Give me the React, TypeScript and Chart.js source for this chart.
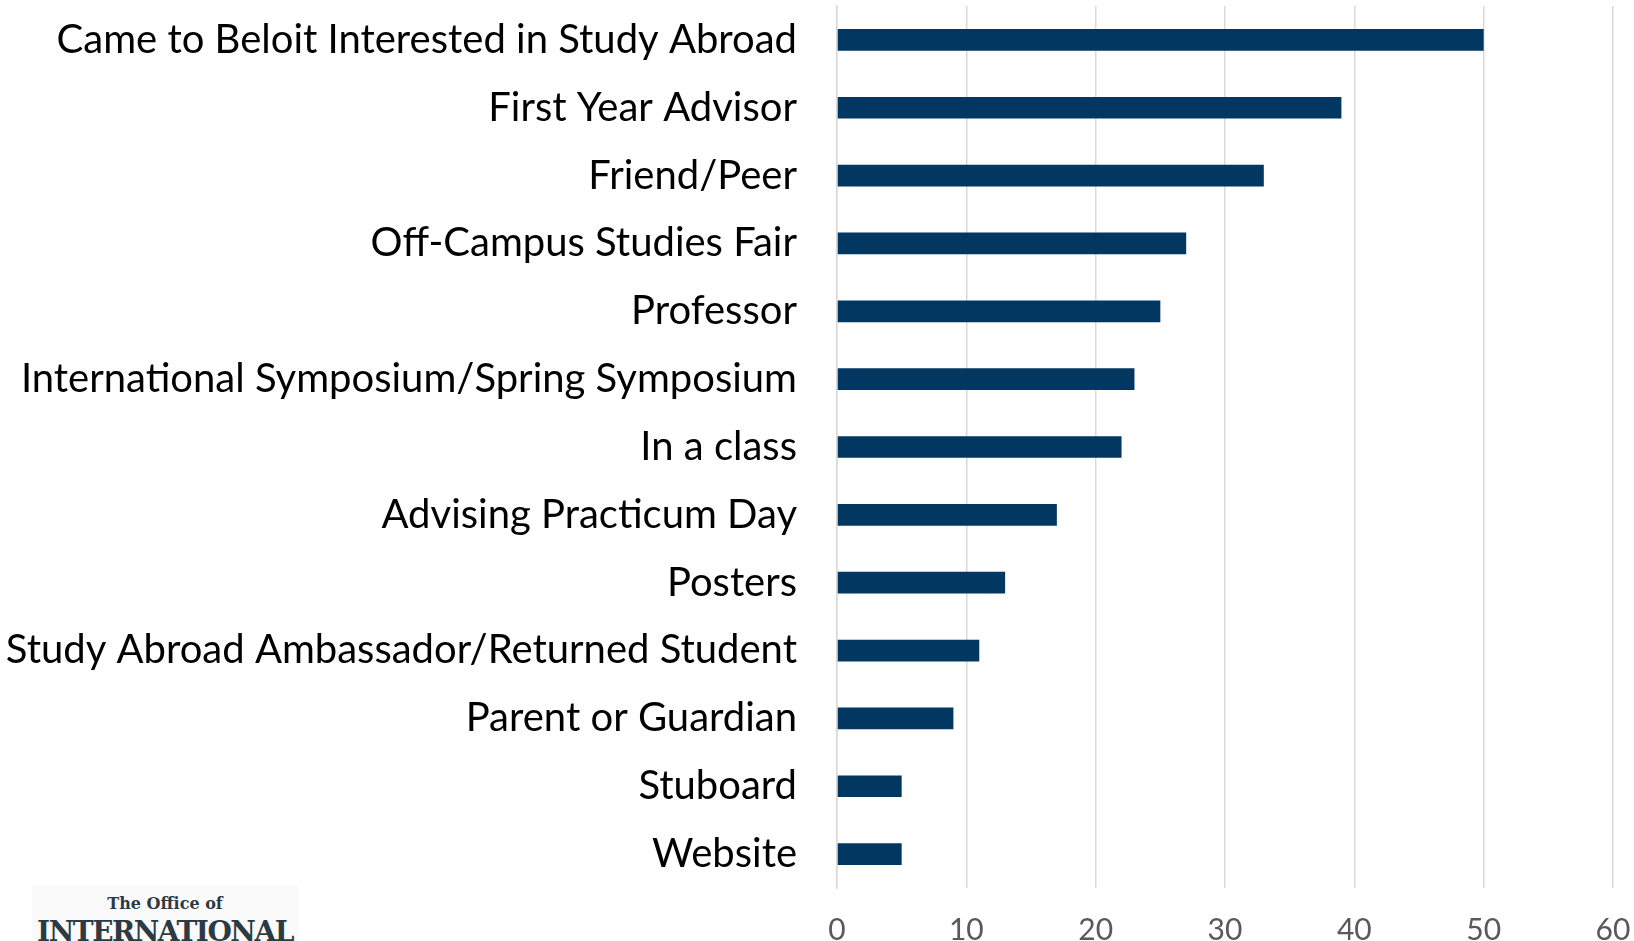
import React, { useEffect, useRef } from "react";
import { Chart, registerables } from "chart.js";

Chart.register(...registerables);

const categories = [
  "Came to Beloit Interested in Study Abroad",
  "First Year Advisor",
  "Friend/Peer",
  "Off-Campus Studies Fair",
  "Professor",
  "International Symposium/Spring Symposium",
  "In a class",
  "Advising Practicum Day",
  "Posters",
  "Study Abroad Ambassador/Returned Student",
  "Parent or Guardian",
  "Stuboard",
  "Website",
];
const counts = [50, 39, 33, 27, 25, 23, 22, 17, 13, 11, 9, 5, 5];
const xTicks = [0, 10, 20, 30, 40, 50, 60];

const FONT = "Lato, 'Open Sans', sans-serif";

export default function App() {
  const ref = useRef<HTMLCanvasElement | null>(null);

  useEffect(() => {
    document.body.style.margin = "0";
    const ctx = ref.current!;
    const chart = new Chart(ctx, {
      type: "bar",
      data: {
        labels: categories,
        datasets: [
          {
            data: counts,
            backgroundColor: "#023761",
            borderWidth: 0,
            barPercentage: 0.32,
            categoryPercentage: 1,
          },
        ],
      },
      options: {
        indexAxis: "y",
        animation: false,
        responsive: false,
        maintainAspectRatio: false,
        layout: { padding: { top: 6, right: 21, left: 0, bottom: 0 } },
        plugins: { legend: { display: false }, tooltip: { enabled: false } },
        scales: {
          x: {
            min: 0,
            max: 60,
            afterBuildTicks: (s: any) => {
              s.ticks = xTicks.map((v) => ({ value: v }));
            },
            afterFit: (s: any) => {
              s.height = 53;
              s.paddingLeft = 0;
              s.paddingRight = 0;
              s.paddingTop = 0;
              s.paddingBottom = 0;
            },
            grid: { color: "#d9d9d9", lineWidth: 1.5, drawTicks: false },
            border: { display: false },
            ticks: {
              color: "#595959",
              font: { family: FONT, size: 30 },
              padding: 24,
              maxRotation: 0,
              autoSkip: false,
            },
          },
          y: {
            afterFit: (s: any) => {
              s.width = 837;
              s.paddingLeft = 0;
              s.paddingRight = 0;
              s.paddingTop = 0;
              s.paddingBottom = 0;
            },
            grid: { display: false, drawTicks: false },
            border: { display: true, color: "#d9d9d9", width: 1.5 },
            ticks: {
              color: "#000000",
              font: { family: FONT, size: 40 },
              padding: 40,
              autoSkip: false,
            },
          },
        },
      },
    });
    return () => chart.destroy();
  }, []);

  return (
    <div style={{ position: "absolute", left: 0, top: 0, width: 1634, height: 941, overflow: "hidden", background: "#fff" }}>
      <canvas ref={ref} width={1634} height={941} style={{ position: "absolute", left: 0, top: 0 }} />
      <div
        style={{
          position: "absolute",
          left: 32,
          top: 885,
          width: 266,
          height: 56,
          background: "#fafafa",
          overflow: "hidden",
          color: "#2c3a44",
          fontFamily: "'DejaVu Serif', serif",
          textAlign: "center",
        }}
      >
        <div style={{ position: "absolute", left: 0, right: 0, top: 10, fontSize: 16, fontWeight: "bold", lineHeight: "18px" }}>
          The Office of
        </div>
        <div style={{ position: "absolute", left: 0, right: 0, top: 32, fontSize: 28, fontWeight: "bold", lineHeight: "30px", letterSpacing: -1.5 }}>
          INTERNATIONAL
        </div>
      </div>
    </div>
  );
}
